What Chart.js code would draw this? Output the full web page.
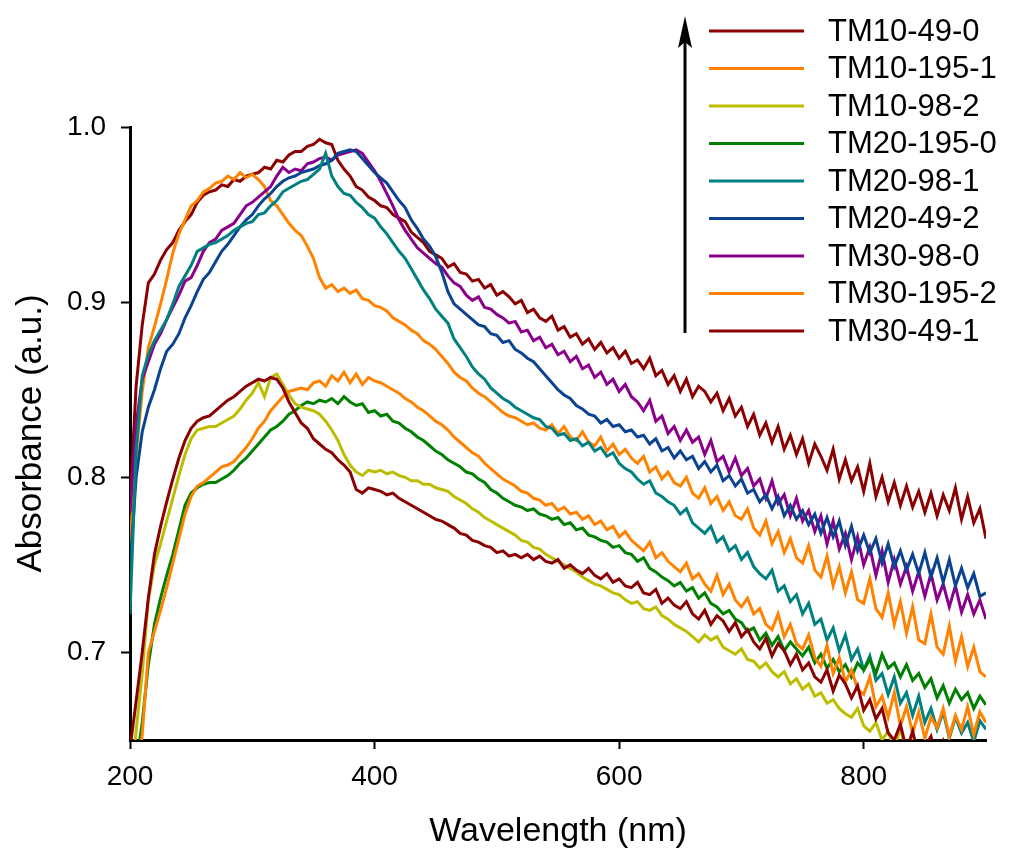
<!DOCTYPE html>
<html><head><meta charset="utf-8">
<script src="https://cdn.jsdelivr.net/npm/chart.js@4/dist/chart.umd.min.js"></script>
<style>html,body{margin:0;padding:0;background:#fff;}canvas{display:block;}</style>
</head><body>
<canvas id="c" width="1011" height="852" style="width:1011px;height:852px"></canvas>
<script>
const wavelengths = [
200,205,210,215,220,225,230,235,240,245,
250,255,260,265,270,275,280,285,290,295,
300,305,310,315,320,325,330,335,340,345,
350,355,360,365,370,375,380,385,390,395,
400,405,410,415,420,425,430,435,440,445,
450,455,460,465,470,475,480,485,490,495,
500,505,510,515,520,525,530,535,540,545,
550,555,560,565,570,575,580,585,590,595,
600,605,610,615,620,625,630,635,640,645,
650,655,660,665,670,675,680,685,690,695,
700,705,710,715,720,725,730,735,740,745,
750,755,760,765,770,775,780,785,790,795,
800,805,810,815,820,825,830,835,840,845,
850,855,860,865,870,875,880,885,890,895,
900];
const xTicks = [200, 400, 600, 800];
const xTickLabels = ['200', '400', '600', '800'];
const yTicks = [0.7, 0.8, 0.9, 1.0];
const yTickLabels = ['0.7', '0.8', '0.9', '1.0'];
const seriesNames = ['TM10-49-0','TM10-195-1','TM10-98-2','TM20-195-0','TM20-98-1','TM20-49-2','TM30-98-0','TM30-195-2','TM30-49-1'];
const seriesColors = ['#8B0000','#FF8300','#BDBD00','#008000','#008080','#0A4490','#8B008B','#FF8300','#8B0000'];

const TM10_49_0 = [
0.645,0.672,0.700,0.731,0.756,0.772,0.786,0.799,0.811,0.821,
0.828,0.832,0.834,0.835,0.838,0.841,0.844,0.846,0.849,0.852,
0.854,0.856,0.855,0.857,0.856,0.851,0.843,0.837,0.831,0.828,
0.822,0.819,0.816,0.814,0.810,0.807,0.803,0.793,0.791,0.794,
0.793,0.792,0.790,0.791,0.788,0.786,0.784,0.782,0.780,0.778,
0.776,0.775,0.773,0.771,0.768,0.767,0.764,0.763,0.761,0.760,
0.757,0.758,0.755,0.756,0.754,0.756,0.753,0.755,0.752,0.751,
0.753,0.748,0.750,0.747,0.745,0.748,0.744,0.742,0.745,0.740,
0.742,0.738,0.737,0.740,0.734,0.733,0.736,0.728,0.731,0.727,
0.725,0.729,0.722,0.719,0.724,0.716,0.721,0.718,0.712,0.717,
0.709,0.713,0.706,0.702,0.708,0.698,0.705,0.701,0.693,0.699,
0.690,0.694,0.686,0.683,0.690,0.678,0.687,0.682,0.674,0.681,
0.667,0.673,0.662,0.668,0.654,0.650,0.659,0.644,0.655,0.641,
0.646,0.652,0.638,0.649,0.636,0.644,0.647,0.633,0.643,0.635,
0.640];
const TM10_195_1 = [
0.600,0.625,0.653,0.700,0.712,0.724,0.737,0.751,0.765,0.779,
0.789,0.795,0.797,0.800,0.803,0.806,0.807,0.809,0.813,0.817,
0.822,0.828,0.832,0.838,0.842,0.846,0.849,0.850,0.851,0.850,
0.854,0.855,0.852,0.858,0.855,0.860,0.854,0.859,0.853,0.857,
0.855,0.854,0.852,0.850,0.848,0.845,0.843,0.840,0.838,0.835,
0.832,0.830,0.827,0.823,0.820,0.817,0.814,0.812,0.808,0.805,
0.802,0.799,0.797,0.795,0.792,0.791,0.788,0.787,0.784,0.785,
0.781,0.783,0.779,0.780,0.776,0.778,0.773,0.775,0.770,0.772,
0.766,0.769,0.764,0.761,0.758,0.763,0.754,0.757,0.752,0.749,
0.746,0.751,0.742,0.745,0.739,0.735,0.744,0.733,0.739,0.730,
0.726,0.731,0.722,0.725,0.716,0.713,0.722,0.709,0.716,0.705,
0.702,0.710,0.697,0.692,0.704,0.688,0.697,0.683,0.690,0.679,
0.676,0.686,0.669,0.675,0.663,0.677,0.658,0.669,0.654,0.666,
0.651,0.663,0.657,0.668,0.652,0.664,0.656,0.669,0.653,0.666,
0.660];
const TM10_98_2 = [
0.620,0.655,0.688,0.730,0.750,0.762,0.775,0.788,0.801,0.813,
0.822,0.827,0.828,0.829,0.829,0.831,0.833,0.835,0.839,0.844,
0.848,0.854,0.846,0.857,0.859,0.853,0.847,0.842,0.840,0.839,
0.838,0.836,0.832,0.827,0.821,0.813,0.807,0.803,0.801,0.804,
0.803,0.804,0.802,0.803,0.801,0.800,0.798,0.798,0.796,0.796,
0.794,0.793,0.792,0.789,0.787,0.785,0.782,0.780,0.777,0.775,
0.773,0.771,0.769,0.767,0.764,0.763,0.760,0.759,0.756,0.754,
0.752,0.750,0.748,0.746,0.743,0.741,0.739,0.738,0.736,0.734,
0.733,0.730,0.728,0.729,0.725,0.724,0.726,0.721,0.719,0.716,
0.714,0.712,0.709,0.706,0.710,0.707,0.709,0.703,0.701,0.699,
0.702,0.696,0.695,0.691,0.694,0.689,0.686,0.689,0.682,0.685,
0.679,0.682,0.675,0.677,0.671,0.673,0.668,0.665,0.663,0.668,
0.658,0.655,0.660,0.650,0.655,0.645,0.657,0.642,0.649,0.638,
0.645,0.635,0.642,0.632,0.640,0.630,0.637,0.628,0.635,0.626,
0.632];
const TM20_195_0 = [
0.610,0.635,0.660,0.693,0.716,0.731,0.744,0.756,0.770,0.784,
0.791,0.794,0.796,0.797,0.797,0.799,0.801,0.804,0.808,0.811,
0.815,0.819,0.823,0.827,0.829,0.832,0.836,0.838,0.841,0.843,
0.842,0.844,0.843,0.845,0.842,0.846,0.843,0.841,0.842,0.837,
0.838,0.835,0.836,0.832,0.831,0.828,0.826,0.823,0.821,0.818,
0.815,0.813,0.810,0.808,0.806,0.803,0.802,0.799,0.797,0.793,
0.791,0.788,0.786,0.784,0.783,0.781,0.782,0.779,0.778,0.776,
0.777,0.773,0.774,0.770,0.771,0.767,0.766,0.764,0.763,0.760,
0.761,0.757,0.756,0.752,0.754,0.748,0.746,0.743,0.741,0.738,
0.740,0.735,0.737,0.731,0.734,0.728,0.726,0.722,0.724,0.719,
0.717,0.712,0.714,0.707,0.711,0.704,0.709,0.701,0.706,0.702,
0.698,0.703,0.694,0.699,0.691,0.696,0.689,0.693,0.686,0.694,
0.690,0.696,0.688,0.699,0.691,0.694,0.686,0.693,0.684,0.688,
0.680,0.685,0.674,0.681,0.671,0.679,0.673,0.677,0.668,0.675,
0.670];
const TM20_98_1 = [
0.722,0.815,0.858,0.870,0.878,0.884,0.890,0.899,0.909,0.915,
0.921,0.929,0.931,0.933,0.934,0.936,0.938,0.941,0.943,0.945,
0.946,0.950,0.951,0.955,0.958,0.963,0.965,0.967,0.969,0.970,
0.973,0.976,0.985,0.972,0.966,0.962,0.961,0.957,0.954,0.950,
0.948,0.943,0.939,0.934,0.929,0.925,0.919,0.913,0.907,0.902,
0.896,0.892,0.888,0.879,0.874,0.869,0.863,0.859,0.856,0.851,
0.848,0.845,0.843,0.840,0.838,0.836,0.834,0.833,0.829,0.828,
0.824,0.825,0.821,0.822,0.818,0.820,0.815,0.817,0.812,0.814,
0.808,0.805,0.803,0.799,0.796,0.798,0.791,0.789,0.786,0.784,
0.779,0.782,0.774,0.771,0.768,0.772,0.763,0.766,0.758,0.761,
0.753,0.757,0.749,0.745,0.742,0.747,0.735,0.738,0.729,0.733,
0.722,0.728,0.716,0.719,0.707,0.714,0.701,0.710,0.696,0.702,
0.690,0.698,0.684,0.688,0.676,0.686,0.671,0.677,0.664,0.675,
0.660,0.668,0.656,0.666,0.651,0.663,0.654,0.660,0.649,0.661,
0.656];
const TM20_49_2 = [
0.748,0.800,0.826,0.840,0.850,0.862,0.872,0.876,0.882,0.891,
0.898,0.906,0.913,0.917,0.923,0.929,0.933,0.938,0.943,0.947,
0.950,0.955,0.959,0.962,0.966,0.969,0.971,0.972,0.974,0.975,
0.976,0.978,0.979,0.981,0.985,0.986,0.987,0.986,0.982,0.978,
0.974,0.971,0.968,0.963,0.958,0.954,0.947,0.942,0.936,0.932,
0.926,0.917,0.906,0.899,0.896,0.893,0.890,0.887,0.886,0.882,
0.881,0.877,0.878,0.873,0.871,0.868,0.866,0.862,0.858,0.854,
0.850,0.847,0.845,0.841,0.839,0.836,0.835,0.831,0.833,0.829,
0.830,0.826,0.827,0.823,0.824,0.819,0.822,0.815,0.817,0.811,
0.815,0.810,0.812,0.805,0.809,0.803,0.807,0.798,0.801,0.795,
0.799,0.791,0.793,0.786,0.790,0.782,0.789,0.778,0.784,0.776,
0.781,0.773,0.779,0.768,0.777,0.766,0.775,0.761,0.772,0.758,
0.767,0.757,0.765,0.751,0.762,0.749,0.758,0.747,0.756,0.745,
0.757,0.743,0.754,0.740,0.753,0.738,0.748,0.737,0.745,0.732,
0.734];
const TM30_98_0 = [
0.780,0.830,0.856,0.866,0.876,0.882,0.890,0.897,0.904,0.912,
0.914,0.921,0.929,0.934,0.936,0.941,0.943,0.945,0.950,0.955,
0.957,0.960,0.963,0.966,0.972,0.977,0.974,0.976,0.975,0.979,
0.980,0.982,0.983,0.981,0.984,0.985,0.986,0.987,0.985,0.980,
0.975,0.969,0.962,0.955,0.947,0.941,0.936,0.931,0.928,0.925,
0.922,0.920,0.915,0.911,0.909,0.904,0.901,0.903,0.897,0.896,
0.893,0.891,0.888,0.889,0.883,0.884,0.878,0.880,0.874,0.876,
0.870,0.872,0.866,0.869,0.862,0.864,0.857,0.860,0.853,0.856,
0.849,0.853,0.846,0.843,0.838,0.844,0.832,0.835,0.825,0.829,
0.821,0.827,0.820,0.823,0.813,0.821,0.809,0.812,0.803,0.811,
0.801,0.805,0.795,0.799,0.788,0.798,0.785,0.790,0.778,0.788,
0.775,0.781,0.769,0.778,0.762,0.775,0.759,0.768,0.753,0.766,
0.750,0.760,0.744,0.758,0.740,0.753,0.739,0.749,0.735,0.746,
0.732,0.745,0.730,0.739,0.726,0.738,0.723,0.733,0.722,0.730,
0.719];
const TM30_195_2 = [
0.762,0.812,0.849,0.874,0.886,0.899,0.913,0.928,0.939,0.947,
0.955,0.958,0.963,0.965,0.968,0.969,0.972,0.970,0.974,0.971,
0.973,0.970,0.966,0.958,0.955,0.950,0.945,0.941,0.938,0.932,
0.925,0.914,0.908,0.910,0.906,0.908,0.905,0.907,0.902,0.901,
0.898,0.897,0.895,0.891,0.889,0.887,0.884,0.882,0.878,0.876,
0.873,0.869,0.865,0.860,0.857,0.855,0.851,0.848,0.846,0.843,
0.840,0.837,0.835,0.834,0.832,0.830,0.831,0.828,0.827,0.830,
0.825,0.829,0.823,0.821,0.826,0.820,0.818,0.823,0.815,0.819,
0.813,0.816,0.811,0.808,0.812,0.803,0.806,0.799,0.803,0.797,
0.795,0.800,0.791,0.788,0.794,0.785,0.789,0.781,0.786,0.778,
0.776,0.782,0.771,0.767,0.775,0.762,0.769,0.757,0.765,0.754,
0.751,0.761,0.747,0.743,0.755,0.738,0.749,0.734,0.746,0.730,
0.728,0.742,0.725,0.720,0.734,0.716,0.729,0.711,0.726,0.707,
0.705,0.722,0.703,0.699,0.715,0.695,0.709,0.692,0.703,0.689,
0.686];
const TM30_49_1 = [
0.785,0.852,0.887,0.911,0.916,0.924,0.930,0.934,0.941,0.946,
0.950,0.957,0.961,0.963,0.964,0.967,0.966,0.970,0.969,0.972,
0.973,0.974,0.977,0.976,0.981,0.980,0.984,0.986,0.986,0.989,
0.990,0.993,0.991,0.990,0.981,0.976,0.972,0.966,0.964,0.960,
0.958,0.955,0.954,0.950,0.948,0.946,0.940,0.937,0.934,0.929,
0.927,0.925,0.920,0.922,0.917,0.916,0.912,0.913,0.908,0.910,
0.904,0.906,0.903,0.899,0.901,0.894,0.896,0.891,0.889,0.892,
0.884,0.886,0.880,0.882,0.876,0.879,0.873,0.877,0.871,0.874,
0.868,0.872,0.865,0.867,0.862,0.868,0.858,0.861,0.853,0.858,
0.849,0.856,0.846,0.852,0.849,0.843,0.848,0.838,0.845,0.835,
0.840,0.829,0.836,0.824,0.831,0.820,0.829,0.816,0.824,0.813,
0.822,0.808,0.819,0.812,0.804,0.816,0.799,0.810,0.798,0.806,
0.792,0.808,0.789,0.800,0.786,0.797,0.784,0.795,0.783,0.792,
0.780,0.791,0.778,0.790,0.781,0.794,0.776,0.789,0.774,0.782,
0.765];
const seriesValues = [TM10_49_0, TM10_195_1, TM10_98_2, TM20_195_0, TM20_98_1, TM20_49_2, TM30_98_0, TM30_195_2, TM30_49_1];

const FONT = '"Liberation Sans", Arial, Helvetica, sans-serif';

const datasets = seriesNames.map((name, i) => ({
  label: name,
  data: wavelengths.map((w, j) => ({x: w, y: seriesValues[i][j]})),
  borderColor: seriesColors[i],
  backgroundColor: seriesColors[i],
  borderWidth: 3,
  pointRadius: 0,
  tension: 0,
  fill: false
}));

const sideLegend = {
  id: 'sideLegend',
  afterDraw(chart) {
    const ctx = chart.ctx;
    ctx.save();
    const x0 = 709, x1 = 804, tx = 828, y0 = 31, gap = 37.5;
    ctx.font = '31px ' + FONT;
    ctx.textBaseline = 'middle';
    ctx.textAlign = 'left';
    chart.data.datasets.forEach((ds, i) => {
      const y = y0 + i * gap;
      ctx.strokeStyle = ds.borderColor;
      ctx.lineWidth = 3;
      ctx.beginPath(); ctx.moveTo(x0, y); ctx.lineTo(x1, y); ctx.stroke();
      ctx.fillStyle = '#000';
      ctx.fillText(ds.label, tx, y + 1);
    });
    ctx.strokeStyle = '#000'; ctx.fillStyle = '#000'; ctx.lineWidth = 3;
    ctx.beginPath(); ctx.moveTo(685, 333); ctx.lineTo(685, 40); ctx.stroke();
    ctx.beginPath(); ctx.moveTo(685, 16); ctx.lineTo(678, 48); ctx.lineTo(685, 42); ctx.lineTo(692, 48); ctx.closePath(); ctx.fill();
    ctx.restore();
  }
};

const gridOpts = {drawOnChartArea: false, drawTicks: true, tickLength: 9, tickWidth: 2, tickColor: '#000'};
const borderOpts = {display: true, color: '#000', width: 3};

new Chart(document.getElementById('c'), {
  type: 'line',
  data: {datasets},
  options: {
    responsive: false,
    animation: false,
    devicePixelRatio: 1,
    parsing: false,
    normalized: true,
    events: [],
    layout: {padding: {left: 0, right: 25, top: 127, bottom: 0}},
    plugins: {legend: {display: false}, tooltip: {enabled: false}},
    scales: {
      x: {
        type: 'linear', min: 200, max: 900,
        afterBuildTicks: s => { s.ticks = xTicks.map(v => ({value: v})); },
        afterFit: s => { s.height = 112; },
        ticks: {callback: (v, i) => xTickLabels[i], font: {family: FONT, size: 28}, color: '#000', padding: 11, maxRotation: 0, autoSkip: false},
        grid: gridOpts,
        border: borderOpts,
        title: {display: true, text: 'Wavelength (nm)', font: {family: FONT, size: 34}, color: '#000', padding: {top: 0, bottom: 0}}
      },
      y: {
        type: 'linear', min: 0.65, max: 1.0,
        afterBuildTicks: s => { s.ticks = yTicks.map(v => ({value: v})); },
        afterFit: s => { s.width = 130; },
        ticks: {callback: (v, i) => yTickLabels[i], font: {family: FONT, size: 28}, color: '#000', padding: 15},
        grid: gridOpts,
        border: borderOpts,
        title: {display: true, text: 'Absorbance (a.u.)', font: {family: FONT, size: 35}, color: '#000', padding: {top: 10, bottom: 0}}
      }
    }
  },
  plugins: [sideLegend]
});
</script>
</body></html>
